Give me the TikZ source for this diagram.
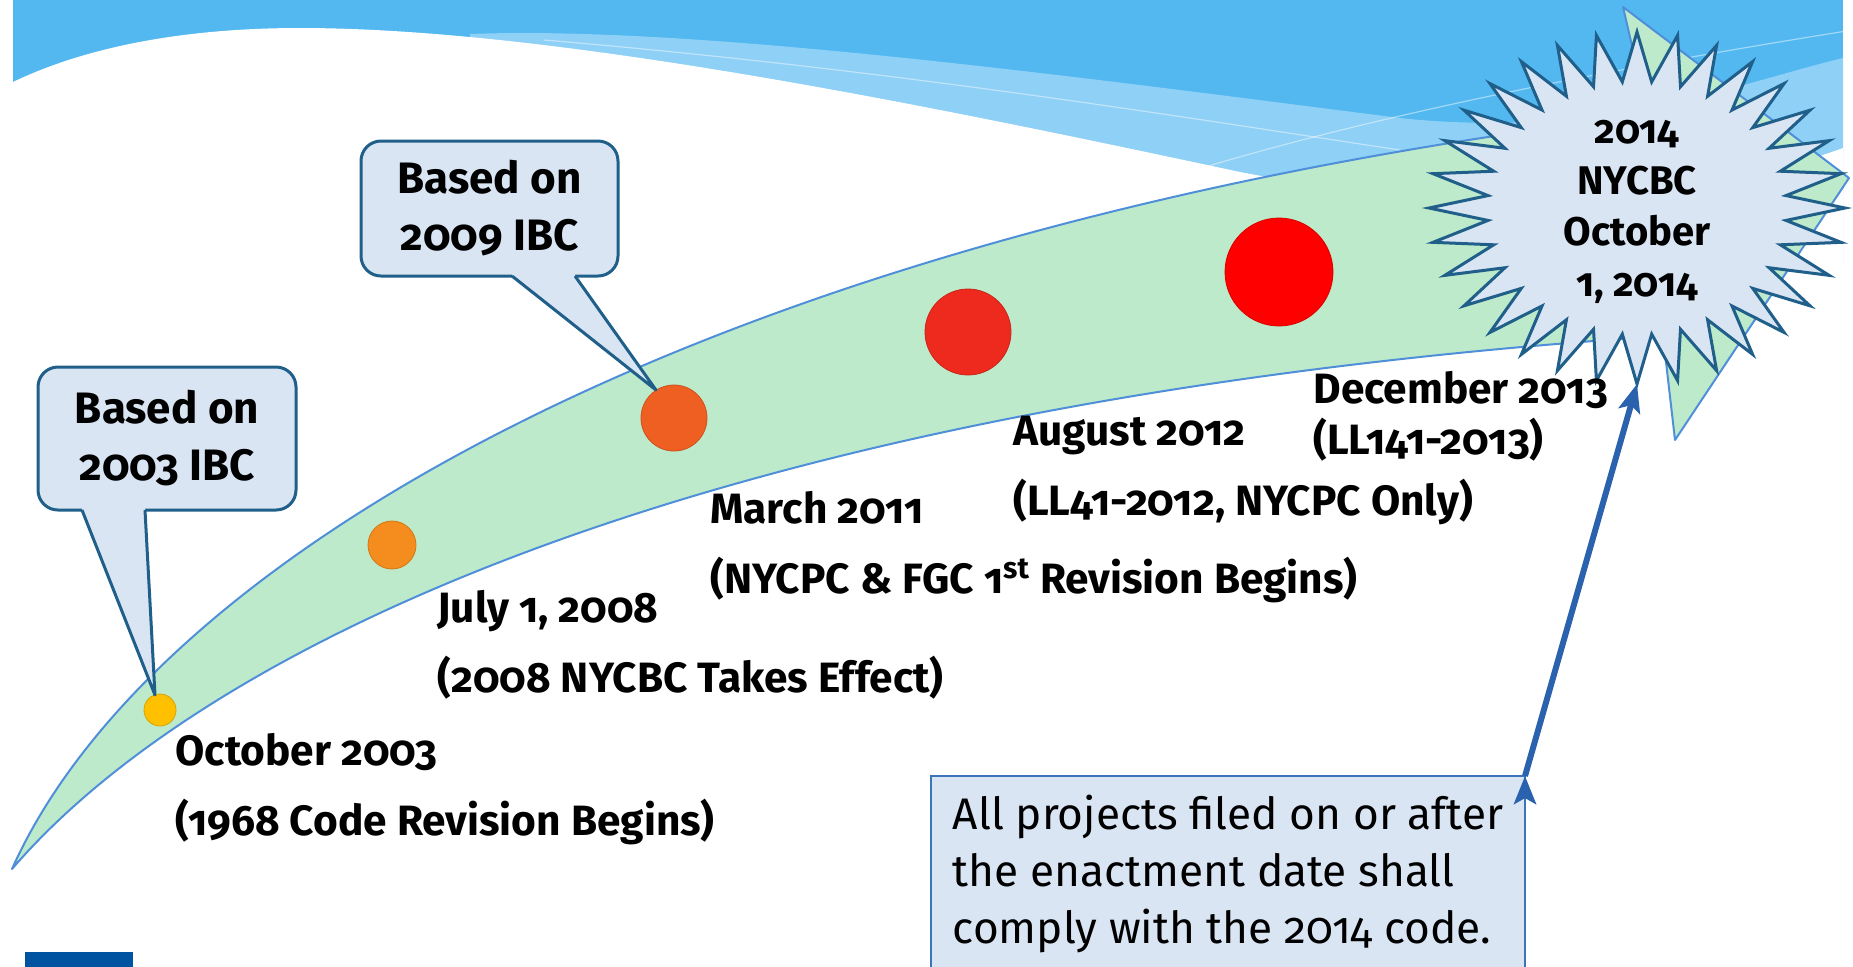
\documentclass[tikz,border=0pt]{standalone}
\usepackage{fontspec}
\setmainfont{Fira Sans}[Numbers=OldStyle]
\usetikzlibrary{arrows.meta,calc}

\definecolor{sky}{HTML}{53B8F0}
\definecolor{skylight}{HTML}{8ED0F6}
\definecolor{band}{HTML}{BDEACA}
\definecolor{bandline}{HTML}{4F8FD9}
\definecolor{bubble}{HTML}{DAE5F4}
\definecolor{bubbleline}{HTML}{1F5F8A}
\definecolor{noteline}{HTML}{3D73B8}
\definecolor{arrowblue}{HTML}{2A62AD}
\definecolor{logoblue}{HTML}{0053A0}
\definecolor{c2003}{HTML}{FFC000}
\definecolor{c2008}{HTML}{F58D1E}
\definecolor{c2011}{HTML}{F05F22}
\definecolor{c2012}{HTML}{EE2A1E}
\definecolor{c2013}{HTML}{FF0000}

\begin{document}
\begin{tikzpicture}[x=0.5pt,y=-0.5pt,
        bb/.style={fill=bubble,draw=bubbleline,line width=1.5pt,rounded corners=10pt,outer sep=0pt,
            align=center,font=\bfseries\fontsize{22}{28.5}\selectfont},
        dt/.style={circle,inner sep=0pt,fill=#1,draw=#1!85!black,line width=0.4pt},
        lb/.style={anchor=west,align=left,inner sep=0pt,font=\bfseries\fontsize{21.2}{35}\selectfont},
        bt/.style={align=center,inner sep=0pt,font=\bfseries\fontsize{20}{25.5}\selectfont},
        nb/.style={fill=bubble,draw=noteline,line width=1.2pt,outer sep=0pt,anchor=north west,
            minimum width=297pt,inner ysep=9.5pt,align=left,text depth=90pt,
            font=\fontsize{22.1}{28.5}\selectfont}
    ]

    \tikzset{
        >={Stealth[length=14pt,width=11pt,inset=3pt]},
    }

    \useasboundingbox (0,0) rectangle (1853,966);

    % sky at the top
    \fill[sky] (13,0) rectangle (1843,262);
    \fill[skylight] (470,34) .. controls (700,25) and (1100,80) .. (1400,118)
        .. controls (1600,140) and (1750,80) .. (1843,58) -- (1843,262) -- (470,262) -- cycle;
    \draw[white,opacity=.45,line width=.6pt] (544,40) .. controls (900,70) and (1200,120) .. (1400,150);
    \draw[white,opacity=.45,line width=.6pt] (1163,180) .. controls (1350,120) and (1600,70) .. (1853,30);
    \fill[white] (13,82) .. controls (90,45) and (190,28) .. (300,28)
        .. controls (560,28) and (950,110) .. (1240,172)
        .. controls (1500,222) and (1700,200) .. (1843,148) -- (1843,264) -- (13,264) -- cycle;

    % the time line
    \filldraw[fill=band,draw=bandline,line width=1pt,line join=round]
        (12,869) .. controls (150,560) and (700,230) .. (1648,115)
        -- (1623,7) -- (1849,178) -- (1675,440) -- (1663,336)
        .. controls (700,400) and (200,650) .. (12,869)
        -- cycle;

    \node[dt=c2003,minimum size=16pt] (d2003) at (160,710) {};
    \node[dt=c2008,minimum size=24pt] (d2008) at (392,545) {};
    \node[dt=c2011,minimum size=33pt] (d2011) at (674,418) {};
    \node[dt=c2012,minimum size=43pt] (d2012) at (968,332) {};
    \node[dt=c2013,minimum size=54pt] (d2013) at (1279,272) {};

    % callouts
    \node[bb,minimum width=129pt,minimum height=71.5pt] (ibc03) at (167,438.5) {Based on\\2003 IBC};
    \coordinate (tip03) at (155,695);
    \fill[bubble] ($(ibc03.south west)+(44,-5)$) -- ($(ibc03.south west)+(44,0)$) -- (tip03)
        -- ($(ibc03.south west)+(107,0)$) -- ($(ibc03.south west)+(107,-5)$) -- cycle;
    \draw[bubbleline,line width=1.5pt,line join=round] ($(ibc03.south west)+(44,0)$) -- (tip03) -- ($(ibc03.south west)+(107,0)$);

    \node[bb,minimum width=128.5pt,minimum height=67.5pt] (ibc09) at (489.5,208.5) {Based on\\2009 IBC};
    \coordinate (tip09) at (656,390);
    \fill[bubble] ($(ibc09.south west)+(151,-5)$) -- ($(ibc09.south west)+(151,0)$) -- (tip09)
        -- ($(ibc09.south west)+(214,0)$) -- ($(ibc09.south west)+(214,-5)$) -- cycle;
    \draw[bubbleline,line width=1.5pt,line join=round] ($(ibc09.south west)+(151,0)$) -- (tip09) -- ($(ibc09.south west)+(214,0)$);

    % 32 point burst
    \filldraw[fill=bubble,draw=bubbleline,line width=1.5pt,line join=miter]
        plot[samples at={0,...,63}] ({1637+208*(1-0.28*mod(\x,2))*sin(\x*5.625)},{208-176*(1-0.28*mod(\x,2))*cos(\x*5.625)})
        -- cycle;
    \node[bt] (nycbc) at (1637,212) {2014\\NYCBC\\October\\1, 2014};
    \coordinate (bursttip) at (1637,384);

    % dates
    \node[lb] (l2003) at (175,789) {October 2003\\(1968 Code Revision Begins)};
    \node[lb] (l2008) at (437,645) {July 1, 2008\\(2008 NYCBC Takes Effect)};
    \node[lb] (l2011) at (710,547) {March 2011\\(NYCPC \& FGC 1\textsuperscript{st} Revision Begins)};
    \node[lb] (l2012) at (1013,471) {August 2012\\(LL41-2012, NYCPC Only)};
    \node[lb,font=\bfseries\fontsize{21.2}{25.5}\selectfont] (l2013) at (1313,416) {December 2013\\(LL141-2013)};

    \node[nb] (note) at (931,776) {All projects filed on or after\\the enactment date shall\\comply with the 2014 code.};

    \fill[logoblue] (25,952) rectangle (133,970);

    \draw[->,arrowblue,line width=3pt]
        (note.north east) edge (bursttip)
        ;

\end{tikzpicture}
\end{document}
